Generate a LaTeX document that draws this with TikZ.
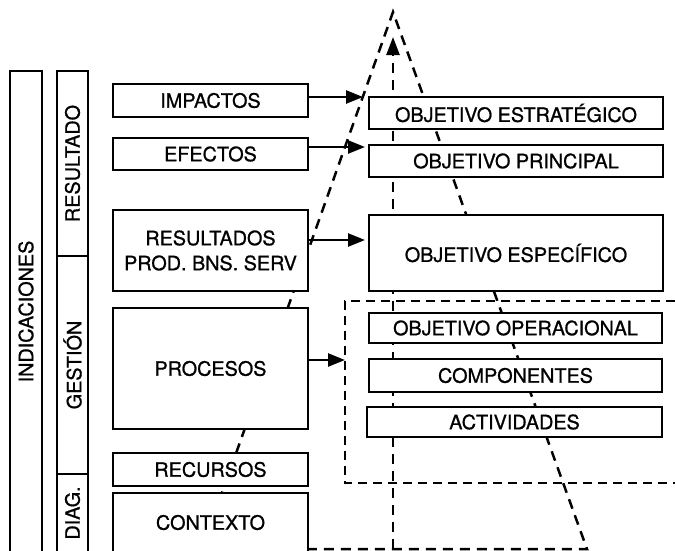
\documentclass[tikz,border=0pt]{standalone}
\usepackage{fontspec}
\setmainfont{TeX Gyre Heros}
\newfontfamily\cajafont{TeX Gyre Heros}[FakeBold=0.9]
\usetikzlibrary{arrows.meta}

\begin{document}
\begin{tikzpicture}[x=1pt, y=-1pt]
\tikzstyle{caja}=[draw, fill=white, line width=1.4pt, inner sep=0pt, align=center, font=\cajafont\fontsize{19.8}{25}\selectfont]
\tikzstyle{flecha}=[line width=2.5pt, -{Triangle[length=17pt,width=13pt]}]
\tikzstyle{punteado}=[line width=2.5pt, dash pattern=on 10pt off 7pt]
\tikzstyle{marco}=[line width=1.5pt, dash pattern=on 9pt off 6pt]
\useasboundingbox (0,0) rectangle (675,550);
% piramide y flecha vertical
\coordinate (cima) at (393,12);
\coordinate (bizq) at (202,549);
\coordinate (bder) at (587,549);
\coordinate (base) at (393,549);
\coordinate (punta) at (393,37);
\draw[punteado] (bizq) -- (cima) -- (bder) -- cycle;
\draw[punteado, -{Triangle[length=18pt,width=13pt]}] (base) -- (punta);
% marco de gestion
\coordinate (m1) at (675,301);
\coordinate (m2) at (345,301);
\coordinate (m3) at (345,483);
\coordinate (m4) at (675,483);
\draw[marco] (m1) -- (m2) -- (m3) -- (m4);
% columnas
\path (26,311.5) node[caja, rotate=90, minimum width=481, minimum height=32] (ind) {INDICACIONES};
\path (72.5,163.5) node[caja, rotate=90, minimum width=185, minimum height=31] (res) {RESULTADO};
\path (72.5,365) node[caja, rotate=90, minimum width=218, minimum height=31] (ges) {GESTIÓN};
\path (72.5,513) node[caja, rotate=90, minimum width=78, minimum height=31] (dia) {DIAG.};
% indicadores
\path (210.5,100.5) node[caja, minimum width=195, minimum height=33] (imp) {IMPACTOS};
\path (210.5,154) node[caja, minimum width=195, minimum height=32] (efe) {EFECTOS};
\path (210.5,250.5) node[caja, minimum width=195, minimum height=81] (prod) {RESULTADOS\\PROD. BNS. SERV};
\path (210.5,368.5) node[caja, minimum width=195, minimum height=121] (pro) {PROCESOS};
\path (210.5,469.5) node[caja, minimum width=195, minimum height=33] (rec) {RECURSOS};
\path (210.5,522.5) node[caja, minimum width=195, minimum height=59] (con) {CONTEXTO};
% objetivos
\path (516,113) node[caja, minimum width=294, minimum height=32] (oest) {OBJETIVO ESTRATÉGICO};
\path (516,161) node[caja, minimum width=294, minimum height=32] (oprin) {OBJETIVO PRINCIPAL};
\path (516,253) node[caja, minimum width=294, minimum height=76] (oesp) {OBJETIVO ESPECÍFICO};
\path (515.5,328) node[caja, minimum width=293, minimum height=30] (oope) {OBJETIVO OPERACIONAL};
\path (515.5,375.5) node[caja, minimum width=293, minimum height=33] (comp) {COMPONENTES};
\path (514.5,422) node[caja, minimum width=295, minimum height=30] (act) {ACTIVIDADES};
% flechas
\coordinate (p1) at (363,97);
\coordinate (p2) at (365,147);
\coordinate (p3) at (365,240);
\coordinate (p4) at (345,360);
\draw[flecha] (imp.east |- p1) -- (p1);
\draw[flecha] (efe.east |- p2) -- (p2);
\draw[flecha] (prod.east |- p3) -- (p3);
\draw[flecha] (pro.east |- p4) -- (p4);
\end{tikzpicture}
\end{document}
